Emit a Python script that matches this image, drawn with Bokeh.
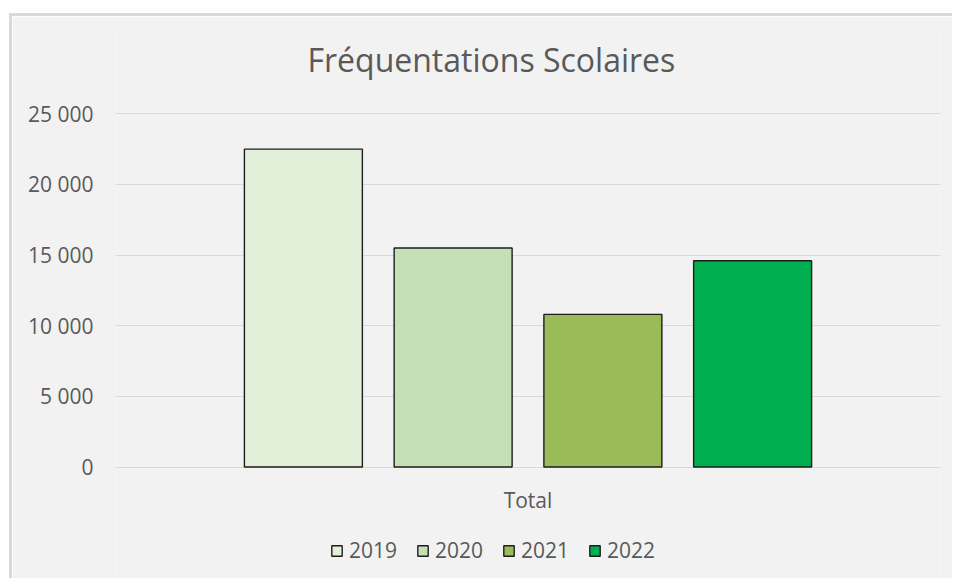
from bokeh.plotting import figure
from bokeh.models import ColumnDataSource, FactorRange, FixedTicker, Legend, LegendItem, Label
from bokeh.transform import dodge
from bokeh.embed import file_html
from bokeh.resources import INLINE

# ---- data ----
title_text = "Fréquentations Scolaires"
categories = ["Total"]
years = ["2019", "2020", "2021", "2022"]
values_2019 = [22500]
values_2020 = [15500]
values_2021 = [10800]
values_2022 = [14600]
colors = ["#e2efd9", "#c5e0b4", "#9bbb59", "#00b050"]
ytick_values = [0, 5000, 10000, 15000, 20000, 25000]
ytick_labels = ["0", "5 000", "10 000", "15 000", "20 000", "25 000"]

series = [values_2019, values_2020, values_2021, values_2022]
data = {"cat": categories}
for y, v in zip(years, series):
    data["y" + y] = v
source = ColumnDataSource(data)

FONT = "Open Sans"
TXT = "#595959"
BG = "#f2f2f2"

# layout (pixels)
W, H = 943, 565
TOP, LEFT, RIGHT = 15, 103, 15
PLOT_TOP = 97.3          # pixel row of the top tick line, from the figure's top
PLOT_H = 353.2           # pixel height of the 0..max band
Y_MAX = ytick_values[-1]
Y_END = Y_MAX + (PLOT_TOP - TOP) / PLOT_H * Y_MAX
Y_START = Y_MAX - (H - PLOT_TOP) / PLOT_H * Y_MAX

p = figure(
    x_range=FactorRange(factors=categories, range_padding=0),
    y_range=(Y_START, Y_END),
    width=W, height=H,
    output_backend="svg", toolbar_location=None,
    min_border_left=LEFT, min_border_right=RIGHT,
    min_border_top=TOP, min_border_bottom=0,
)
p.styles = {"margin-top": "13px", "margin-left": "9px",
            "border-top": "3px solid #d9d9d9", "border-left": "3px solid #d9d9d9"}
p.title.text = ""
p.title.standoff = 0
p.title.text_font_size = "1px"

p.background_fill_color = BG
p.border_fill_color = BG
p.outline_line_color = None

bar_w = 0.143
gap = 0.0385
renderers = []
for i, y in enumerate(years):
    off = (i - 1.5) * (bar_w + gap)
    r = p.vbar(x=dodge("cat", off, range=p.x_range), top="y" + y, width=bar_w,
               source=source, fill_color=colors[i], line_color="#1e1e1e", line_width=1.4)
    renderers.append((y, r))

# title (drawn as a label above the top tick line)
p.add_layout(Label(x=0, y=Y_MAX, x_offset=192, y_offset=54, text=title_text,
                   text_align="left", text_baseline="alphabetic",
                   text_font=FONT, text_font_size="32px", text_color=TXT))

# y axis
p.yaxis.ticker = FixedTicker(ticks=ytick_values)
p.yaxis.major_label_overrides = dict(zip(ytick_values, ytick_labels))
p.yaxis.axis_line_color = None
p.yaxis.major_tick_line_color = None
p.yaxis.minor_tick_line_color = None
p.yaxis.major_label_standoff = 16
p.yaxis.major_label_text_font = FONT
p.yaxis.major_label_text_font_size = "21px"
p.yaxis.major_label_text_color = TXT

# x axis: category label drawn under the zero line
p.xaxis.visible = False
p.add_layout(Label(x=0.5, y=0, y_offset=-33, text=categories[0],
                   text_align="center", text_baseline="alphabetic",
                   text_font=FONT, text_font_size="21px", text_color=TXT))

p.xgrid.grid_line_color = None
p.ygrid.grid_line_color = "#d9d9d9"
p.ygrid.grid_line_width = 1

legend = Legend(
    items=[LegendItem(label=y, renderers=[r]) for y, r in renderers],
    orientation="horizontal", location=(215, 17),
    label_text_font=FONT, label_text_font_size="21px", label_text_color=TXT,
    glyph_width=13, glyph_height=13, label_standoff=6, spacing=19,
    padding=0, margin=0,
    background_fill_alpha=0, border_line_color=None,
)
p.add_layout(legend, "center")

open("out.html", "w").write(file_html(p, INLINE))
